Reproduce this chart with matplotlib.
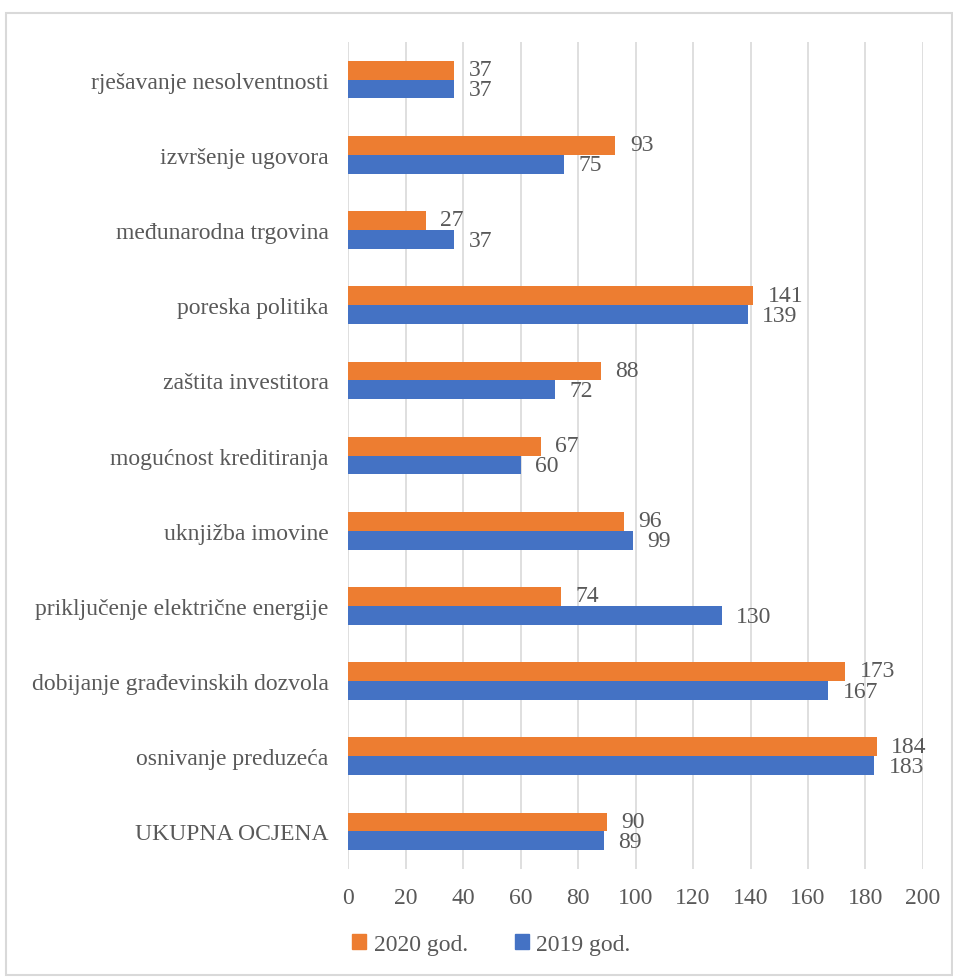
import matplotlib.pyplot as plt
import matplotlib.patches as mpatches
import numpy as np

categories = ["UKUPNA OCJENA", "osnivanje preduzeća", "dobijanje građevinskih dozvola",
              "priključenje električne energije", "uknjižba imovine", "mogućnost kreditiranja",
              "zaštita investitora", "poreska politika", "međunarodna trgovina",
              "izvršenje ugovora", "rješavanje nesolventnosti"]
god2020 = [90, 184, 173, 74, 96, 67, 88, 141, 27, 93, 37]
god2019 = [89, 183, 167, 130, 99, 60, 72, 139, 37, 75, 37]

plt.rcParams['font.family'] = ['Liberation Serif', 'DejaVu Serif']
gray = '#595959'
orange = '#ED7D31'
blue = '#4472C4'
fs = 17

fig = plt.figure(figsize=(9.54, 9.79), dpi=100)
ax = fig.add_axes([0.3648, 0.1113, 0.6027, 0.8447])

y = np.arange(len(categories))
h = 0.25
b20 = ax.barh(y + h / 2, god2020, height=h, color=orange, zorder=3)
b19 = ax.barh(y - h / 2, god2019, height=h, color=blue, zorder=3)
for rect, v in zip(b20, god2020):
    ax.text(v + 5, rect.get_y() + rect.get_height() / 2 + 0.01, str(v), va='center', ha='left',
            fontsize=fs, color=gray)
for rect, v in zip(b19, god2019):
    ax.text(v + 5, rect.get_y() + rect.get_height() / 2 - 0.01, str(v), va='center', ha='left',
            fontsize=fs, color=gray)

ax.set_xlim(0, 200)
ax.set_ylim(-0.5, len(categories) - 0.5)
ax.set_xticks(np.arange(0, 201, 20))
ax.set_yticks(y)
ax.set_yticklabels(categories)
ax.grid(axis='x', color='#D9D9D9', linewidth=1.2, zorder=0)
for s in ax.spines.values():
    s.set_visible(False)
ax.tick_params(axis='both', length=0, labelsize=fs, colors=gray)
ax.tick_params(axis='x', pad=13)
ax.tick_params(axis='y', pad=14)

handles = [mpatches.Patch(color=orange, label='2020 god.'),
           mpatches.Patch(color=blue, label='2019 god.')]
leg = fig.legend(handles=handles, loc='center', bbox_to_anchor=(0.515, 0.034), ncol=2,
                 frameon=False, fontsize=fs, handlelength=0.6, handleheight=0.6,
                 handletextpad=0.3, columnspacing=2.0)
for t in leg.get_texts():
    t.set_color(gray)

fig.patches.append(mpatches.Rectangle((0.006, 0.003), 0.992, 0.983, transform=fig.transFigure,
                                      fill=False, edgecolor='#D9D9D9', linewidth=1.5))

fig.savefig('out.png', dpi=100)
